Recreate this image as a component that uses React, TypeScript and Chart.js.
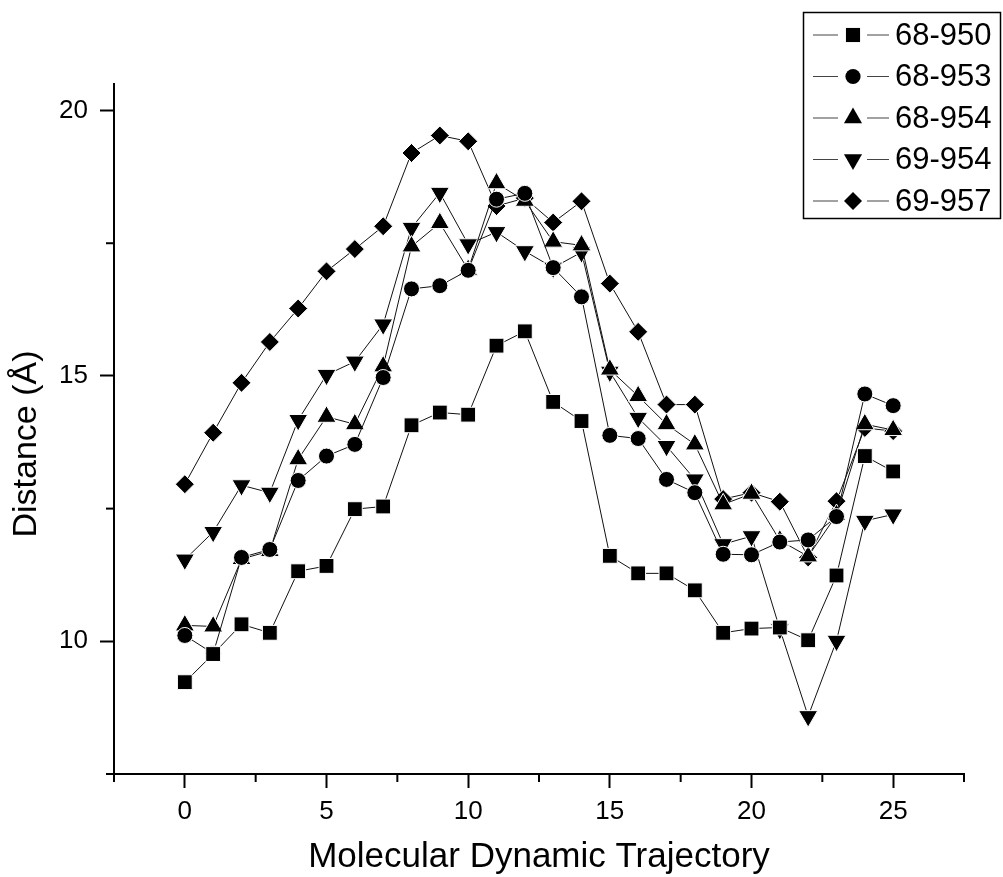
import React, { useEffect, useRef } from 'react';
import { Chart, registerables } from 'chart.js';

Chart.register(...registerables);

// ---- data ----
const trajectory = [0, 1, 2, 3, 4, 5, 6, 7, 8, 9, 10, 11, 12, 13, 14, 15, 16, 17, 18, 19, 20, 21, 22, 23, 24, 25];
const seriesNames = ['68-950', '68-953', '68-954', '69-954', '69-957'];
const d68_950 = [9.23, 9.76, 10.32, 10.16, 11.32, 11.42, 12.49, 12.54, 14.07, 14.31, 14.27, 15.57, 15.84, 14.51, 14.15, 11.61, 11.28, 11.28, 10.96, 10.16, 10.24, 10.26, 10.02, 11.24, 13.49, 13.2];
const d68_953 = [10.11, 9.77, 11.58, 11.73, 13.03, 13.49, 13.71, 14.97, 16.64, 16.7, 16.99, 18.33, 18.44, 17.04, 16.49, 13.88, 13.82, 13.05, 12.8, 11.64, 11.63, 11.87, 11.91, 12.35, 14.66, 14.44];
const d68_954 = [10.3, 10.28, 11.55, 11.7, 13.43, 14.23, 14.09, 15.18, 17.44, 17.88, 17.0, 18.63, 18.3, 17.53, 17.46, 15.12, 14.62, 14.09, 13.71, 12.58, 12.78, 11.9, 11.6, 12.38, 14.09, 13.98];
const d69_954 = [11.54, 12.06, 12.94, 12.8, 14.17, 15.02, 15.27, 15.97, 17.79, 18.45, 17.48, 17.71, 17.35, 17.04, 17.33, 15.08, 14.21, 13.68, 13.05, 11.83, 11.98, 10.23, 8.59, 10.01, 12.27, 12.39];
const d69_957 = [12.96, 13.93, 14.87, 15.64, 16.27, 16.97, 17.39, 17.82, 19.2, 19.53, 19.42, 18.2, 18.35, 17.89, 18.29, 16.74, 15.83, 14.46, 14.46, 12.68, 12.8, 12.63, 11.58, 12.64, 14.02, 13.96];
const allSeries = [d68_950, d68_953, d68_954, d69_954, d69_957];

const xMajorTicks = [0, 5, 10, 15, 20, 25];
const yMajorTicks = [10, 15, 20];
const xTitle = 'Molecular Dynamic Trajectory';
const yTitle = 'Distance (Å)';

const markerStyles = ['rect', 'circle', 'triangle', 'triangle', 'rectRot'];
const markerRotations = [0, 0, 0, 180, 0];
const markerRadii = [10.5, 8, 11, 11, 9.5];

const FONT = "'Liberation Sans', Arial, sans-serif";

function drawMarker(ctx: CanvasRenderingContext2D, style: string, rot: number, r: number, x: number, y: number) {
  ctx.beginPath();
  if (style === 'rect') {
    const s = r * Math.SQRT1_2;
    ctx.rect(x - s, y - s, 2 * s, 2 * s);
  } else if (style === 'circle') {
    ctx.arc(x, y, r, 0, Math.PI * 2);
  } else if (style === 'triangle') {
    let rad = (rot * Math.PI) / 180;
    ctx.moveTo(x + Math.sin(rad) * r, y - Math.cos(rad) * r);
    rad += (2 * Math.PI) / 3;
    ctx.lineTo(x + Math.sin(rad) * r, y - Math.cos(rad) * r);
    rad += (2 * Math.PI) / 3;
    ctx.lineTo(x + Math.sin(rad) * r, y - Math.cos(rad) * r);
    ctx.closePath();
  } else if (style === 'rectRot') {
    ctx.moveTo(x, y - r);
    ctx.lineTo(x + r, y);
    ctx.lineTo(x, y + r);
    ctx.lineTo(x - r, y);
    ctx.closePath();
  }
  ctx.fillStyle = '#000';
  ctx.fill();
}

const minorTicksPlugin = {
  id: 'minorTicks',
  afterDraw(chart: any) {
    const ctx = chart.ctx;
    ctx.save();
    ctx.strokeStyle = '#000';
    ctx.lineWidth = 2;
    const xs = chart.scales.x;
    const ys = chart.scales.y;
    xs.ticks.forEach((t: any) => {
      if (Math.abs(t.value % 5) > 1e-6) {
        const px = xs.getPixelForValue(t.value);
        ctx.beginPath();
        ctx.moveTo(px, xs.top);
        ctx.lineTo(px, xs.top + 8);
        ctx.stroke();
      }
    });
    ys.ticks.forEach((t: any) => {
      if (Math.abs(t.value % 5) > 1e-6) {
        const py = ys.getPixelForValue(t.value);
        ctx.beginPath();
        ctx.moveTo(ys.right, py);
        ctx.lineTo(ys.right - 8, py);
        ctx.stroke();
      }
    });
    // y axis title, placed slightly below the axis centre as in the original
    ctx.fillStyle = '#000';
    ctx.font = `34px ${FONT}`;
    ctx.textAlign = 'center';
    ctx.textBaseline = 'middle';
    ctx.translate(27, (ys.top + ys.bottom) / 2 + 15);
    ctx.rotate(-Math.PI / 2);
    ctx.fillText(yTitle, 0, 0);
    ctx.restore();
  },
};

const boxLegendPlugin = {
  id: 'boxLegend',
  afterDraw(chart: any) {
    const ctx = chart.ctx;
    ctx.save();
    ctx.strokeStyle = '#000';
    ctx.lineWidth = 1.5;
    ctx.strokeRect(803.5, 12.5, 197, 206);
    chart.data.datasets.forEach((ds: any, i: number) => {
      const y = 35 + i * 41.5;
      ctx.strokeStyle = '#444';
      ctx.lineWidth = 1;
      ctx.beginPath();
      ctx.moveTo(813, y);
      ctx.lineTo(838, y);
      ctx.moveTo(867, y);
      ctx.lineTo(889, y);
      ctx.stroke();
      drawMarker(ctx, markerStyles[i], markerRotations[i], markerRadii[i] * 0.95, 853, y);
      ctx.fillStyle = '#000';
      ctx.font = `31px ${FONT}`;
      ctx.textBaseline = 'middle';
      ctx.textAlign = 'left';
      ctx.fillText(ds.label, 895, y + 1);
    });
    ctx.restore();
  },
};

export default function App() {
  const ref = useRef<HTMLCanvasElement | null>(null);

  useEffect(() => {
    if (!ref.current) return;
    const datasets = seriesNames.map((name, i) => ({
      label: name,
      data: trajectory.map((t, j) => ({ x: t, y: allSeries[i][j] })),
      showLine: true,
      borderColor: '#111',
      borderWidth: 1,
      pointStyle: markerStyles[i],
      rotation: markerRotations[i],
      pointRadius: markerRadii[i],
      pointBackgroundColor: '#000',
      pointBorderColor: '#fff',
      pointBorderWidth: 1,
      tension: 0,
    }));

    const chart = new Chart(ref.current, {
      type: 'scatter',
      data: { datasets },
      options: {
        animation: false,
        responsive: false,
        events: [],
        layout: { padding: { top: 84, right: 39, left: 0, bottom: 0 } },
        plugins: { legend: { display: false }, tooltip: { enabled: false } },
        scales: {
          x: {
            type: 'linear',
            min: -2.5,
            max: 27.5,
            afterFit: (s: any) => { s.height = 103; },
            border: { display: true, color: '#000', width: 2 },
            grid: {
              drawOnChartArea: false,
              drawTicks: true,
              tickLength: 14,
              tickWidth: 2,
              tickColor: (c: any) => (c.tick && xMajorTicks.includes(c.tick.value) ? '#000' : 'rgba(0,0,0,0)'),
            },
            ticks: {
              stepSize: 2.5,
              includeBounds: false,
              autoSkip: false,
              maxRotation: 0,
              padding: 8,
              color: '#000',
              font: { family: FONT, size: 26 },
              callback: (v: any) => (xMajorTicks.includes(Number(v)) ? String(v) : ''),
            },
            title: {
              display: true,
              text: xTitle,
              color: '#000',
              font: { family: FONT, size: 35, lineHeight: 1 },
              padding: { top: 0, bottom: 2 },
            },
          },
          y: {
            type: 'linear',
            min: 7.5,
            max: 20.5,
            afterFit: (s: any) => { s.width = 114; },
            border: { display: true, color: '#000', width: 2 },
            grid: {
              drawOnChartArea: false,
              drawTicks: true,
              tickLength: 14,
              tickWidth: 2,
              tickColor: (c: any) => (c.tick && yMajorTicks.includes(c.tick.value) ? '#000' : 'rgba(0,0,0,0)'),
            },
            ticks: {
              stepSize: 2.5,
              includeBounds: false,
              autoSkip: false,
              padding: 12,
              color: '#000',
              font: { family: FONT, size: 26 },
              callback: (v: any) => (yMajorTicks.includes(Number(v)) ? String(v) : ''),
            },
            title: { display: false },
          },
        },
      },
      plugins: [minorTicksPlugin, boxLegendPlugin],
    } as any);

    return () => chart.destroy();
  }, []);

  return (
    <div style={{ position: 'absolute', left: 0, top: 0, width: 1003, height: 877, background: '#fff' }}>
      <canvas ref={ref} width={1003} height={877} style={{ display: 'block' }} />
    </div>
  );
}
